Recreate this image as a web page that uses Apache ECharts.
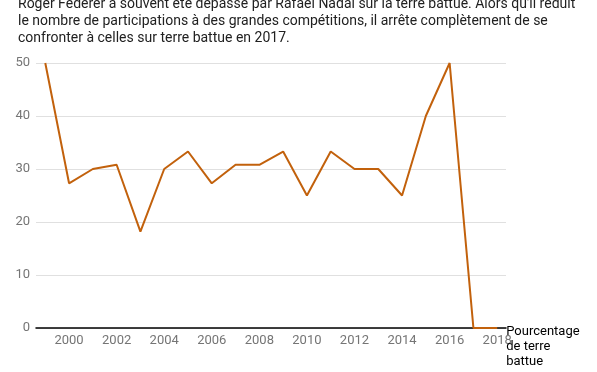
<!DOCTYPE html>
<html>
<head>
<meta charset="utf-8">
<script src="https://cdn.jsdelivr.net/npm/echarts@6/dist/echarts.min.js"></script>
<style>
html,body{margin:0;padding:0;background:#fff;}
#chart{width:597px;height:372px;}
</style>
</head>
<body>
<div id="chart"></div>
<script>
const years = [1999,2000,2001,2002,2003,2004,2005,2006,2007,2008,2009,2010,2011,2012,2013,2014,2015,2016,2017,2018];
const clayPct = [50,27.3,30,30.8,18.2,30,33.3,27.3,30.8,30.8,33.3,25,33.3,30,30,25,40,50,0,0];
const xTickLabels = [2000,2002,2004,2006,2008,2010,2012,2014,2016,2018];
const yTicks = [0,10,20,30,40,50];
const seriesName = 'Pourcentage\nde terre\nbattue';
const titleLines = [
  "Roger Federer a souvent été dépassé par Rafael Nadal sur la terre battue. Alors qu'il réduit",
  "le nombre de participations à des grandes compétitions, il arrête complètement de se",
  "confronter à celles sur terre battue en 2017."
];

const chart = echarts.init(document.getElementById('chart'), null, {renderer:'canvas'});
chart.setOption({
  animation:false,
  backgroundColor:'#fff',
  title:{
    text:titleLines.join('\n'),
    left:13, top:-9,
    textStyle:{fontFamily:'Roboto', fontSize:14, fontWeight:'normal', color:'#212121', lineHeight:17}
  },
  grid:{left:36, right:91, top:63, bottom:44},
  xAxis:{
    type:'value', min:1998.61, max:2018.37,
    axisLine:{show:true, onZero:true, lineStyle:{color:'#000', width:1.5}},
    axisTick:{show:false},
    splitLine:{show:false},
    axisLabel:{
      customValues:xTickLabels, margin:6,
      fontFamily:'Roboto', fontSize:13, color:'#757575',
      formatter:v=>String(v)
    }
  },
  yAxis:{
    type:'value', min:yTicks[0], max:yTicks[yTicks.length-1], interval:10,
    axisLine:{show:false}, axisTick:{show:false},
    splitLine:{lineStyle:{color:'#e0e0e0', width:1}},
    axisLabel:{margin:6, fontFamily:'Roboto', fontSize:13, color:'#757575'}
  },
  series:[{
    name:seriesName,
    type:'line',
    data:years.map((y,i)=>[y,clayPct[i]]),
    symbol:'none',
    lineStyle:{color:'#c2610c', width:2},
    itemStyle:{color:'#c2610c'},
    endLabel:{
      show:true, formatter:'{a}', distance:9,
      align:'left', verticalAlign:'top', offset:[0,-4],
      fontFamily:'Roboto', fontSize:13, color:'#000', lineHeight:15
    }
  }]
});
</script>
</body>
</html>
